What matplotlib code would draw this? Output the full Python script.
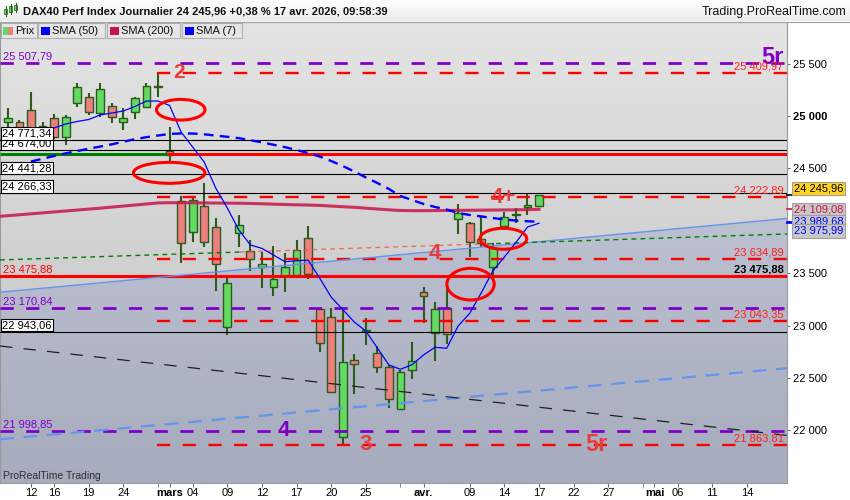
import numpy as np
import matplotlib.pyplot as plt
from matplotlib.patches import Ellipse, Rectangle, Polygon
from matplotlib.colors import LinearSegmentedColormap

plt.rcParams['font.family'] = ['Liberation Sans', 'DejaVu Sans']
plt.rcParams['lines.scale_dashes'] = False

# ---- données (index de séance, 1 = 10 fév. 2026) ----
days = list(range(1, 48))
opens = [24945, 24945, 25057, 24900, 24977, 24796, 25120, 25183, 25025, 25098, 24939, 25040,
         25082, 25272, 24668, 24191, 23890, 24141, 23938, 22989, 23880, 23714, 23562, 23371,
         23476, 23483, 23833, 23155, 23079, 21940, 22669, 22945, 22736, 22602, 22202, 22576,
         23317, 22926, 23165, 24014, 23976, 23823, 23556, 23950, 24050, 24128, 24141]
highs = [25073, 24960, 25225, 24945, 25018, 25009, 25311, 25222, 25317, 25126, 25079, 25178,
         25311, 25409.97, 24897, 24236, 24222.89, 24357, 24023, 23466, 24055, 23816, 23705, 23759,
         23690, 23816, 23950, 23170.84, 23165, 23165, 22726, 23069, 22805, 22624, 22577, 22841,
         23365, 23222, 23360, 24160, 23990, 24033, 23785, 24086, 24119, 24255, 24250]
lows = [24880, 24800, 24830, 24760, 24780, 24723, 25088, 25009, 24993, 24930, 24866, 24968,
        25073, 25176, 24563, 23594, 23800, 23752, 23333, 22910, 23752, 23524, 23356, 23285,
        23323, 23461, 23442, 22751, 22360, 21863.81, 22344, 22815, 22545, 22211, 22202, 22488,
        23022, 22665, 22824, 23871, 23657, 23752, 23483, 23912, 23981, 24055, 24141]
closes = [24977, 24850, 24870, 24820, 24802, 24987, 25279, 25035, 25254, 24987, 24977, 25168,
          25286, 25284, 24624, 23785, 24198, 23800, 23585, 23403, 23959, 23632, 23585, 23441,
          23556, 23721, 23489, 22831, 22369, 22650, 22631, 22955, 22602, 22297, 22555, 22665,
          23285, 23155, 22917, 24071, 23795, 23791, 23737, 24033, 24060, 24150, 24245.96]

sma200_days = list(range(0, 48))
sma200 = [24040, 24048, 24057, 24066, 24075, 24084, 24093, 24102, 24111, 24120, 24130, 24140,
          24150, 24160, 24170, 24172, 24172, 24171, 24170, 24169, 24168, 24167, 24165, 24162,
          24158, 24155, 24152, 24150, 24146, 24140, 24134, 24128, 24120, 24112, 24104, 24098,
          24096, 24096, 24097, 24098, 24099, 24100, 24101, 24102, 24103, 24104, 24106, 24109.08]
sma50_days = list(range(3, 48))
sma50 = [24565, 24591, 24618, 24643, 24665, 24687, 24708, 24729, 24754, 24778, 24797, 24813,
         24828, 24833, 24832, 24825, 24812, 24801, 24788, 24768, 24748, 24725, 24702, 24675,
         24646, 24613, 24570, 24522, 24470, 24413, 24360, 24303, 24236, 24198, 24160, 24131,
         24107, 24074, 24055, 24041, 24026, 24012, 24002, 23995, 23989.68]
sma7_days = list(range(1, 48))
sma7 = [24840, 24850, 24860, 24872, 24885, 24923, 24947, 24966, 25009, 25028, 25047, 25090,
        25142, 25142, 25100, 24847, 24704, 24560, 24312, 24122, 23912, 23769, 23736, 23673,
        23609, 23618, 23625, 23453, 23272, 23153, 23034, 22948, 22786, 22624, 22583, 22626,
        22720, 22793, 22783, 22996, 23117, 23312, 23521, 23654, 23793, 23940, 23975.99]

tick_days = [3, 5, 8, 11, 15, 17, 20, 23, 26, 29, 32, 37, 41, 44, 47, 50, 53, 57, 59, 62, 65]
tick_labels = ['12', '16', '19', '24', 'mars', '04', '09', '12', '17', '20', '25', 'avr.',
               '09', '14', '17', '22', '27', 'mai', '06', '11', '14']
minor_days = [14, 35, 56]

purple_levels = [25507.79, 23170.84, 21998.85]
red_levels = [25409.97, 24222.89, 23634.89, 23043.35, 21863.81]
red_start_day = 13.9
black_levels = [24674.00, 24771.34, 24441.28, 24266.33, 22943.06]
support_level = 23475.88
gap_level = 24640
gap_day = 14.75

# droites de tendance : valeur au bord gauche / au bord droit
trend_blue = [23318, 24022]
trend_blue_dash = [21915, 22593]
trend_black = [22805, 21952]
trend_dotted = [23626, 23874]
dotted_red_days = (21.1, 42.5)

ellipses = [(15.97, 25059, 4.2, 197), (14.97, 24457, 6.2, 200),
            (43.91, 23828, 4.05, 200), (41.07, 23395, 4.1, 302)]
waves = [('2', 15.8, 25409.97, '#E53E3E', 15, 0),
         ('4+', 43.9, 24222.89, '#E53E3E', 16, 0),
         ('4', 38.0, 23634.89, '#E53E3E', 16, 4),
         ('4', 24.9, 21998.85, '#7E00C6', 16, 0),
         ('3', 32.0, 21863.81, '#E53E3E', 16, 0),
         ('5r', 52.0, 21863.81, '#E53E3E', 17, 0),
         ('5r', 67.2, 25507.79, '#7E00C6', 17, 3.5)]

fmt = lambda v: f'{v:,.2f}'.replace(',', ' ').replace('.', ',')

# ---- figure ----
fig = plt.figure(figsize=(8.5, 5), dpi=100)
fig.patch.set_facecolor('white')
ax = fig.add_axes([0, 17 / 500, 787 / 850, 461 / 500])
x0, x1 = 0.315, 68.48
y0, y1 = 21498, 25896

grad = np.linspace(0, 1, 256).reshape(-1, 1)
gray_bg = LinearSegmentedColormap.from_list('gray_bg', ['#E4E4E4', '#BEBEBE'])
ax.imshow(grad, cmap=gray_bg, extent=[x0, x1, y0, y1], aspect='auto', origin='upper', zorder=0)
blue_bg = LinearSegmentedColormap.from_list('blue_bg', ['#CDD1E0', '#A6ABBD'])
im = ax.imshow(grad, cmap=blue_bg, extent=[x0, x1, y0, y1], aspect='auto', origin='upper', zorder=0.5)
zone = Polygon([(x0, trend_blue[0]), (x1, trend_blue[1]), (x1, y0), (x0, y0)],
               closed=True, transform=ax.transData)
im.set_clip_path(zone)
ax.set_xlim(x0, x1)
ax.set_ylim(y0, y1)

# bougies
o = np.array(opens); c = np.array(closes)
up = c >= o
ax.vlines(days, lows, highs, color='#2D5B1B', lw=1.5, zorder=4)
ax.bar(days, np.maximum(np.abs(c - o), 8), bottom=np.minimum(o, c), width=0.68,
       color=np.where(up, '#63DB63', '#EF7F7F'), edgecolor='#2D5B1B', linewidth=1.0, zorder=5)

# niveaux horizontaux
for v in black_levels:
    ax.axhline(v, color='black', lw=0.8, zorder=6)
for v in purple_levels:
    ax.axhline(v, color='#7F00C8', lw=2, ls=(0, (9.5, 9)), zorder=6)
for v in red_levels:
    ax.hlines(v, red_start_day, x1, color='#FF0000', lw=1.7, ls=(0, (9.5, 9)), zorder=6)
ax.axhline(support_level, color='#FF0000', lw=2.2, zorder=6)
ax.hlines(gap_level, x0, gap_day, color='#008000', lw=2.2, zorder=6)
ax.hlines(gap_level, gap_day, x1, color='#FF0000', lw=2.2, zorder=6)

# tendances
ax.plot([x0, x1], trend_blue, color='#6495ED', lw=1, zorder=6)
ax.plot([x0, x1], trend_blue_dash, color='#6495ED', lw=1.6, ls=(0, (10, 7)), zorder=6)
ax.plot([x0, x1], trend_black, color='#202020', lw=0.9, ls=(0, (9, 8)), zorder=6)
tl = lambda d: trend_dotted[0] + (trend_dotted[1] - trend_dotted[0]) * (d - x0) / (x1 - x0)
ra, rb = dotted_red_days
ax.plot([x0, ra], [tl(x0), tl(ra)], color='#008000', lw=1, ls=(0, (3.5, 3)), zorder=6)
ax.plot([ra, rb], [tl(ra), tl(rb)], color='#FF4040', lw=1, ls=(0, (3.5, 3)), alpha=0.7, zorder=6)
ax.plot([rb, x1], [tl(rb), tl(x1)], color='#008000', lw=1, ls=(0, (3.5, 3)), zorder=6)

# moyennes mobiles
ax.plot(sma200_days, sma200, color='#C8144B', lw=2.2, alpha=0.85, zorder=6)
ax.plot(sma50_days, sma50, color='#0000FF', lw=1.7, ls=(0, (7, 4.5)), zorder=6)
ax.plot(sma7_days, sma7, color='#0000FF', lw=0.9, zorder=6)

for cx, cy, w, h in ellipses:
    ax.add_patch(Ellipse((cx, cy), w, h, fill=False, ec='#FF0000', lw=2.2, zorder=7))

for txt, d, v, col, fs, dy in waves:
    ax.annotate(txt, xy=(d, v), xytext=(0, dy), textcoords='offset points', ha='center',
                va='center', color=col, fontsize=fs, fontweight='bold', zorder=8)

ytr = ax.get_yaxis_transform()
# étiquettes gauche
for v in purple_levels:
    ax.annotate(fmt(v), xy=(0, v), xycoords=ytr, xytext=(2, 2.5), textcoords='offset points',
                va='baseline', color='#7F00C8', fontsize=8, zorder=8)
ax.annotate(fmt(support_level), xy=(0, support_level), xycoords=ytr, xytext=(2, 2.5),
            textcoords='offset points', va='baseline', color='#FF0000', fontsize=8, zorder=8)
for v in black_levels:
    ax.annotate(fmt(v), xy=(0, v), xycoords=ytr, xytext=(1.6, 2.5), textcoords='offset points',
                va='baseline', color='black', fontsize=8, zorder=9,
                bbox=dict(boxstyle='square,pad=0.12', fc='white', ec='black', lw=0.8))
# étiquettes droite dans le graphique
for v in red_levels:
    ax.annotate(fmt(v), xy=(1, v), xycoords=ytr, xytext=(-2.5, 2.5), textcoords='offset points',
                ha='right', va='baseline', color='#FF2020', fontsize=8, zorder=8)
ax.annotate(fmt(support_level), xy=(1, support_level), xycoords=ytr, xytext=(-2.5, 2.5),
            textcoords='offset points', ha='right', va='baseline', color='black',
            fontsize=8, fontweight='bold', zorder=8)

# axe des prix
yt = [22000, 22500, 23000, 23500, 24000, 24500, 25000, 25500]
ax.yaxis.tick_right()
ax.set_yticks(yt, [f'{v:,}'.replace(',', ' ') for v in yt])
ax.tick_params(axis='y', length=2.5, pad=1.5, labelsize=8, color='#707070')
for lab in ax.get_yticklabels():
    if lab.get_text() == '25 000':
        lab.set_fontweight('bold')
ax.set_xticks(tick_days, tick_labels)
ax.set_xticks(minor_days, minor=True)
ax.tick_params(axis='x', which='both', length=3, pad=0.8, labelsize=8, color='#707070')
for lab in ax.get_xticklabels():
    if lab.get_text() in ('mars', 'avr.', 'mai'):
        lab.set_fontweight('bold')
for sp in ax.spines.values():
    sp.set_color('#9A9A9A')
    sp.set_linewidth(0.8)

# cases de valeurs à droite
value_boxes = [(closes[-1], '#FFD21E', 'black', 4.7, '#000000'),
               (sma200[-1], '#C8C8C8', '#C8144B', 0, '#C8144B'),
               (sma50[-1], '#C8C8C8', '#0000FF', 0, '#0000FF'),
               (sma7[-1], '#C8C8C8', '#0000FF', -5.5, '#0000FF')]
for v, fc, tc, dy, mk in value_boxes:
    ax.plot([1.0, 1.008], [v, v], transform=ytr, color=mk, lw=1.2, clip_on=False, zorder=9)
    ax.annotate(fmt(v), xy=(1, v), xycoords=ytr, xytext=(5, dy), textcoords='offset points',
                ha='left', va='center', fontsize=8, color=tc, annotation_clip=False, zorder=10,
                bbox=dict(boxstyle='square,pad=0.15', fc=fc, ec='#A0A0A0', lw=0.8))

# ---- bandeau, légende, filigrane (coordonnées écran) ----
ov = fig.add_axes([0, 0, 1, 1], zorder=10)
ov.axis('off')
head = LinearSegmentedColormap.from_list('head', ['#FFFFFF', '#EBEBEB'])
ov.imshow(grad, cmap=head, extent=[0, 850, 21.5, 0], aspect='auto', origin='upper')
ov.set_xlim(0, 850)
ov.set_ylim(500, 0)
ov.plot([0, 850], [21.5, 21.5], color='#A0A0A0', lw=0.8)
for xi, yb, yt_, bt, bb in [(6, 6, 16, 9, 14), (11, 4, 14, 6, 12), (16, 3, 12, 5, 10)]:
    ov.plot([xi, xi], [yb, yt_], color='#2D5B1B', lw=0.8)
    ov.add_patch(Rectangle((xi - 1.5, bt), 3, bb - bt, fc='#63DB63', ec='#2D5B1B', lw=0.5))
ov.text(23, 11.5, 'DAX40 Perf Index Journalier 24 245,96 +0,38 % 17 avr. 2026, 09:58:39',
        fontsize=8, fontweight='bold', va='center', ha='left', color='#111111')
ov.text(846, 12, 'Trading.ProRealTime.com', fontsize=9, va='center', ha='right', color='#111111')

legend_items = [(1, 36, 'Prix', None), (38, 67, 'SMA (50)', '#0000FF'),
                (107, 73, 'SMA (200)', '#C8144B'), (182, 60, 'SMA (7)', '#0000FF')]
for lx, lw_, name, col in legend_items:
    ov.add_patch(Rectangle((lx, 22.5), lw_, 15.5, fc='#E6E6E6', ec='#B0B0B0', lw=0.8))
    if col is None:
        ov.add_patch(Rectangle((lx + 2, 26.5), 5, 8.5, fc='#63DB63', ec='none'))
        ov.add_patch(Rectangle((lx + 7, 26.5), 5, 8.5, fc='#EF7F7F', ec='none'))
    else:
        ov.add_patch(Rectangle((lx + 3.5, 26.5), 8.5, 8.5, fc=col, ec='none'))
    ov.text(lx + 14.5, 30.5, name, fontsize=8, va='center', ha='left', color='#111111')

ov.text(3, 476, 'ProRealTime Trading', fontsize=7.5, va='center', ha='left', color='#303030')

fig.savefig('out.png', dpi=100)
